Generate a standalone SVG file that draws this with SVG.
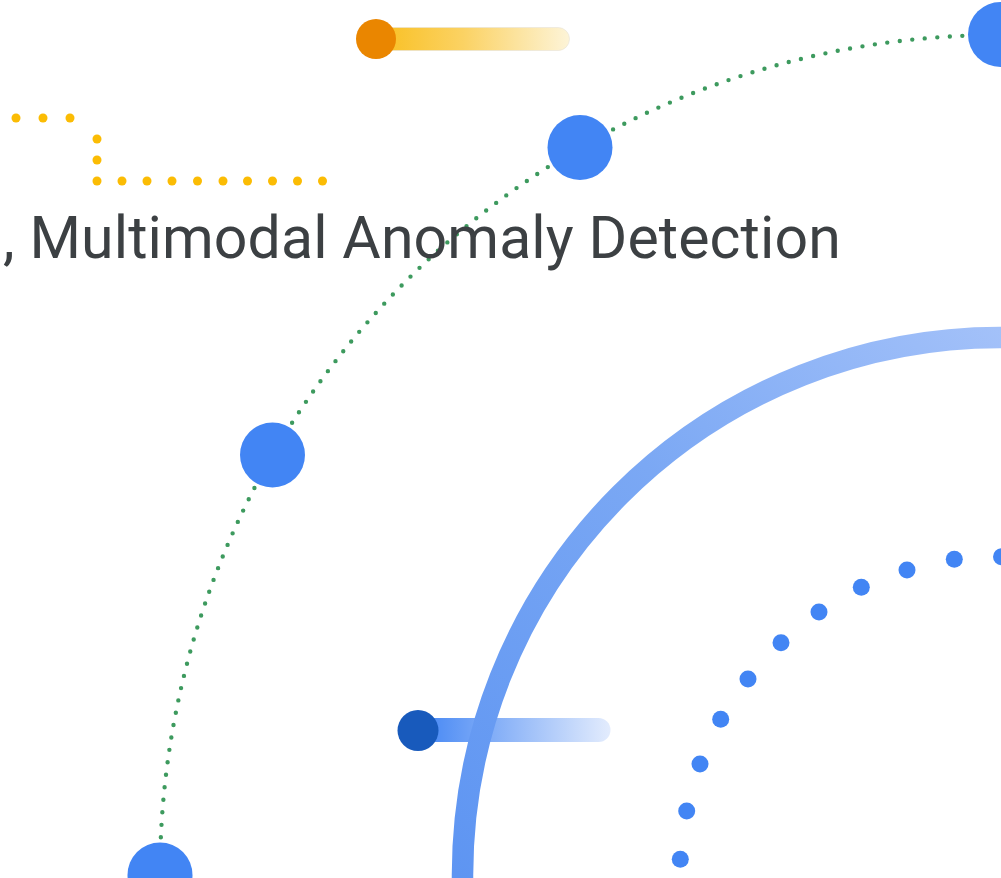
<svg xmlns="http://www.w3.org/2000/svg" width="1001" height="878" viewBox="0 0 1001 878">
  <defs>
    <linearGradient id="gOrange" x1="0" y1="0" x2="1" y2="0">
      <stop offset="0" stop-color="#f9bf1f"/>
      <stop offset="0.45" stop-color="#fbd263"/>
      <stop offset="1" stop-color="#fdf4d8"/>
    </linearGradient>
    <linearGradient id="gBlueTrack" x1="0" y1="0" x2="1" y2="0">
      <stop offset="0" stop-color="#4285f4"/>
      <stop offset="0.5" stop-color="#94b9f8"/>
      <stop offset="1" stop-color="#e3ecfd"/>
    </linearGradient>
    <linearGradient id="gArc" gradientUnits="userSpaceOnUse" x1="1000" y1="330" x2="460" y2="878">
      <stop offset="0" stop-color="#a3c1f9"/>
      <stop offset="0.45" stop-color="#7ba8f4"/>
      <stop offset="1" stop-color="#5e95f2"/>
    </linearGradient>
    <style>
      .ydot { fill: #fbbc04; }
      .bdot { fill: #4285f4; }
      .node { fill: #4285f4; }
      .title { font-family: "Roboto", "Open Sans", "Liberation Sans", sans-serif; font-size: 59px; fill: #3c4043; letter-spacing: 0.1px; }
    </style>
  </defs>

  <rect width="1001" height="878" fill="#ffffff"/>

  <!-- yellow dotted path -->
  <g id="yellow-dots">
    <circle class="ydot" cx="16" cy="118" r="4.5"/>
    <circle class="ydot" cx="43" cy="118" r="4.5"/>
    <circle class="ydot" cx="70" cy="118" r="4.5"/>
    <circle class="ydot" cx="97" cy="139" r="4.5"/>
    <circle class="ydot" cx="97" cy="160" r="4.5"/>
    <circle class="ydot" cx="97" cy="181" r="4.5"/>
    <circle class="ydot" cx="122" cy="181" r="4.5"/>
    <circle class="ydot" cx="147" cy="181" r="4.5"/>
    <circle class="ydot" cx="172" cy="181" r="4.5"/>
    <circle class="ydot" cx="197.5" cy="181" r="4.5"/>
    <circle class="ydot" cx="223" cy="181" r="4.5"/>
    <circle class="ydot" cx="247.5" cy="181" r="4.5"/>
    <circle class="ydot" cx="272.5" cy="181" r="4.5"/>
    <circle class="ydot" cx="297.5" cy="181" r="4.5"/>
    <circle class="ydot" cx="322.5" cy="181" r="4.5"/>
  </g>

  <!-- orange slider -->
  <g id="orange-slider">
    <rect x="376" y="27.5" width="193.5" height="23" rx="11.5" fill="url(#gOrange)" stroke="#e6e2da" stroke-width="0.6"/>
    <circle cx="376" cy="39" r="20" fill="#ea8600"/>
  </g>

  <!-- blue slider track -->
  <g id="blue-slider-track">
    <rect x="418" y="718" width="192.5" height="24" rx="12" fill="url(#gBlueTrack)"/>
  </g>

  <!-- big thick arc -->
  <g id="thick-arc">
    <circle cx="1000" cy="875" r="537.5" fill="none" stroke="url(#gArc)" stroke-width="21.5"/>
  </g>

  <!-- blue slider knob -->
  <g id="blue-slider-knob">
    <circle cx="418" cy="730.5" r="20.5" fill="#185abc"/>
  </g>

  <!-- connectors: green dotted arc -->
  <g id="connectors">
    <path d="M 160 875 A 840 840 0 0 1 1000 35" fill="none" stroke="#3d9a5e" stroke-width="4.4" stroke-linecap="round" stroke-dasharray="0 1" pathLength="105"/>
  </g>

  <!-- blue dotted arc -->
  <g id="blue-dots">
    <circle class="bdot" cx="1001.5" cy="556.7" r="8.5"/>
    <circle class="bdot" cx="954.3" cy="559.3" r="8.5"/>
    <circle class="bdot" cx="907" cy="570" r="8.5"/>
    <circle class="bdot" cx="861.3" cy="587.3" r="8.5"/>
    <circle class="bdot" cx="819" cy="612" r="8.5"/>
    <circle class="bdot" cx="781" cy="642.7" r="8.5"/>
    <circle class="bdot" cx="748" cy="679" r="8.5"/>
    <circle class="bdot" cx="720.7" cy="719.3" r="8.5"/>
    <circle class="bdot" cx="700" cy="764" r="8.5"/>
    <circle class="bdot" cx="686.7" cy="811" r="8.5"/>
    <circle class="bdot" cx="680.3" cy="859.3" r="8.5"/>
  </g>

  <!-- nodes on the green arc -->
  <g id="node-top-right"><circle class="node" cx="1000.5" cy="34.5" r="32.5"/></g>
  <g id="node-60"><circle class="node" cx="580" cy="147.5" r="32.5"/></g>
  <g id="node-30"><circle class="node" cx="272.5" cy="455" r="32.5"/></g>
  <g id="node-bottom"><circle class="node" cx="160" cy="875" r="32.5"/></g>

  <!-- title -->
  <g id="title">
    <text class="title" x="3" y="258">, Multimodal Anomaly Detection</text>
  </g>
</svg>
